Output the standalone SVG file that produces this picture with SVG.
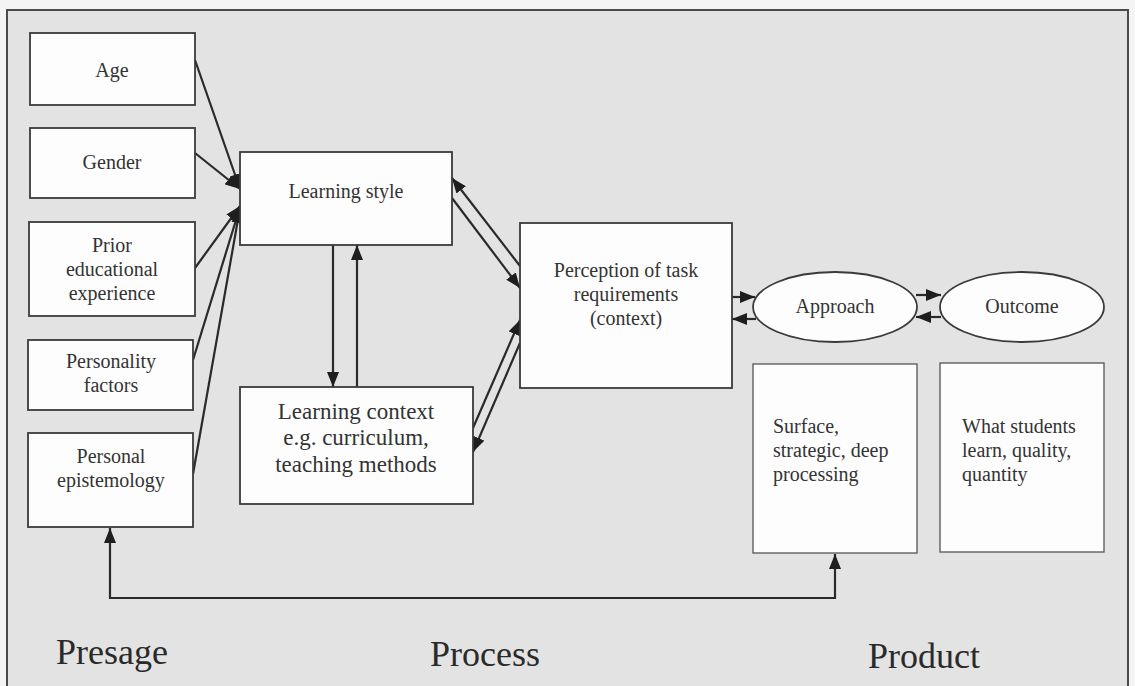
<svg xmlns="http://www.w3.org/2000/svg" width="1135" height="686" viewBox="0 0 1135 686">
  <defs>
    <marker id="head" viewBox="0 0 15 12" refX="15" refY="6" markerWidth="15" markerHeight="12" markerUnits="userSpaceOnUse" orient="auto-start-reverse">
      <path d="M0,0 L15,6 L0,12 Z" fill="#1e1e1e"/>
    </marker>
  </defs>
  <style>
    .box { fill: #fdfdfd; stroke: #3a3a3a; stroke-width: 1.8; }
    .thin { fill: #fdfdfd; stroke: #555; stroke-width: 1.3; }
    .t { font-family: "Liberation Serif", "Times New Roman", serif; font-size: 20px; fill: #333; text-anchor: middle; }
    .big { font-size: 23px; }
    .left { text-anchor: start; }
    .phase { font-family: "Liberation Serif", "Times New Roman", serif; font-size: 36px; fill: #2a2a2a; }
    .wire { fill: none; stroke: #2a2a2a; stroke-width: 2.2; marker-end: url(#head); }
  </style>

  <!-- page and frame -->
  <rect x="0" y="0" width="1135" height="686" fill="#f4f4f4"/>
  <rect x="7" y="10" width="1121" height="690" fill="#e3e3e3" stroke="#4a4a4a" stroke-width="2"/>

  <!-- connectors -->
  <g id="connectors">
    <!-- presage factors into learning style -->
    <line class="wire" x1="195" y1="60" x2="240" y2="189"/>
    <line class="wire" x1="195" y1="153" x2="240" y2="189"/>
    <line class="wire" x1="195" y1="268" x2="240" y2="206"/>
    <line class="wire" x1="193" y1="360" x2="240" y2="207"/>
    <line class="wire" x1="193" y1="474" x2="240" y2="208"/>
    <!-- learning style <-> learning context -->
    <line class="wire" x1="333" y1="245" x2="333" y2="387"/>
    <line class="wire" x1="357" y1="387" x2="357" y2="245"/>
    <!-- learning style <-> perception -->
    <line class="wire" x1="520" y1="266" x2="452" y2="178"/>
    <line class="wire" x1="452" y1="198" x2="520" y2="288"/>
    <!-- learning context <-> perception -->
    <line class="wire" x1="473" y1="428" x2="520" y2="320"/>
    <line class="wire" x1="520" y1="343" x2="473" y2="452"/>
    <!-- perception <-> approach -->
    <line class="wire" x1="732" y1="297" x2="755" y2="297"/>
    <line class="wire" x1="756" y1="319" x2="732" y2="319"/>
    <!-- approach <-> outcome -->
    <line class="wire" x1="916" y1="295" x2="941" y2="295"/>
    <line class="wire" x1="941" y1="317" x2="916" y2="317"/>
    <!-- feedback loop along the bottom -->
    <path class="wire" d="M110,528 L110,598 L835,598 L835,554" marker-start="url(#head)"/>
  </g>

  <!-- presage -->
  <g id="age">
    <rect class="box" x="30" y="33" width="165" height="72"/>
    <text class="t" x="112" y="77">Age</text>
  </g>
  <g id="gender">
    <rect class="box" x="30" y="128" width="165" height="70"/>
    <text class="t" x="112" y="169">Gender</text>
  </g>
  <g id="prior-experience">
    <rect class="box" x="29" y="222" width="166" height="94"/>
    <text class="t" x="112" y="252">Prior</text>
    <text class="t" x="112" y="276">educational</text>
    <text class="t" x="112" y="300">experience</text>
  </g>
  <g id="personality">
    <rect class="box" x="28" y="340" width="165" height="70"/>
    <text class="t" x="111" y="368">Personality</text>
    <text class="t" x="111" y="392">factors</text>
  </g>
  <g id="epistemology">
    <rect class="box" x="28" y="433" width="165" height="94"/>
    <text class="t" x="111" y="463">Personal</text>
    <text class="t" x="111" y="487">epistemology</text>
  </g>

  <!-- process -->
  <g id="learning-style">
    <rect class="box" x="240" y="152" width="212" height="93"/>
    <text class="t" x="346" y="198">Learning style</text>
  </g>
  <g id="learning-context">
    <rect class="box" x="240" y="387" width="233" height="117"/>
    <text class="t big" x="356" y="419">Learning context</text>
    <text class="t big" x="356" y="445">e.g. curriculum,</text>
    <text class="t big" x="356" y="472">teaching methods</text>
  </g>
  <g id="perception">
    <rect class="box" x="520" y="223" width="212" height="165"/>
    <text class="t" x="626" y="277">Perception of task</text>
    <text class="t" x="626" y="301">requirements</text>
    <text class="t" x="626" y="325">(context)</text>
  </g>

  <!-- product -->
  <g id="approach">
    <ellipse class="box" cx="835" cy="307" rx="82" ry="35"/>
    <text class="t" x="835" y="313">Approach</text>
  </g>
  <g id="outcome">
    <ellipse class="box" cx="1022" cy="307" rx="82" ry="35"/>
    <text class="t" x="1022" y="313">Outcome</text>
  </g>
  <g id="approach-detail">
    <rect class="thin" x="753" y="364" width="164" height="189"/>
    <text class="t left" x="773" y="433">Surface,</text>
    <text class="t left" x="773" y="457">strategic, deep</text>
    <text class="t left" x="773" y="481">processing</text>
  </g>
  <g id="outcome-detail">
    <rect class="thin" x="940" y="363" width="164" height="189"/>
    <text class="t left" x="962" y="433">What students</text>
    <text class="t left" x="962" y="457">learn, quality,</text>
    <text class="t left" x="962" y="481">quantity</text>
  </g>

  <!-- stage labels -->
  <text class="phase" x="56" y="664">Presage</text>
  <text class="phase" x="430" y="666">Process</text>
  <text class="phase" x="868" y="668">Product</text>
</svg>
